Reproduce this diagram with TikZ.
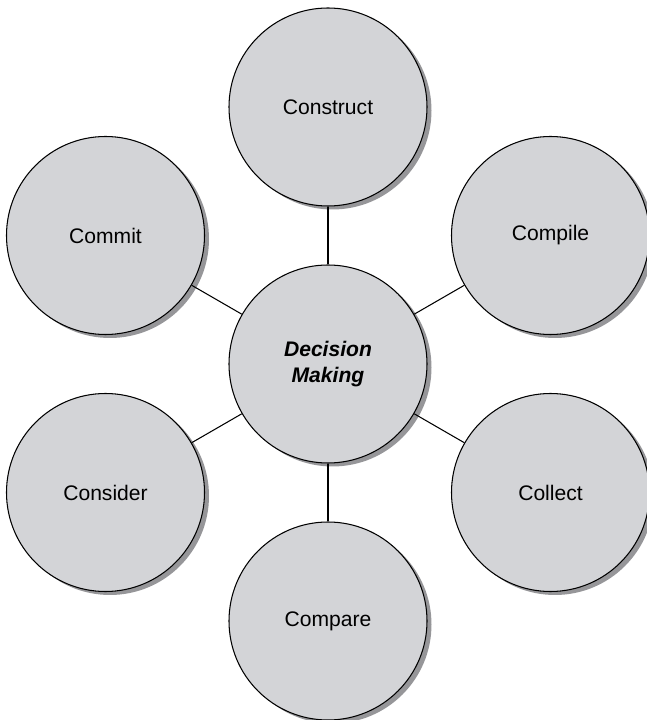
\documentclass[tikz,border=0pt]{standalone}
\usepackage{fontspec}
\setmainfont{Liberation Sans}
\usepackage{tikz}
\usetikzlibrary{shadows}

\definecolor{discgray}{RGB}{211,212,215}
\definecolor{shadegray}{RGB}{150,150,153}

\tikzset{
  stage/.style={circle, draw=black, line width=0.6pt, fill=discgray,
    minimum size=3.96cm, inner sep=0pt, font=\fontsize{12}{15}\selectfont,
    align=center,
    drop shadow={shadow xshift=0.09cm, shadow yshift=-0.07cm,
      fill=shadegray, opacity=1}},
  spoke/.style={line width=0.6pt}
}

\begin{document}
\begin{tikzpicture}
\useasboundingbox (0,0) rectangle (12.92,14.4);
% centre disc and the six stages around it
\node[stage] (decide) at (6.56,7.12) {\textbf{\textit{Decision}}\\\textbf{\textit{Making}}};
\node[stage] (construct) at (6.56,12.26) {Construct};
\node[stage] (compile) at (11.01,9.69) {Compile};
\node[stage] (collect) at (11.01,4.55) {Collect};
\node[stage] (compare) at (6.56,1.98) {Compare};
\node[stage] (consider) at (2.11,4.55) {Consider};
\node[stage] (commit) at (2.11,9.69) {Commit};
% spokes
\draw[spoke] (decide) -- (construct);
\draw[spoke] (decide) -- (compile);
\draw[spoke] (decide) -- (collect);
\draw[spoke] (decide) -- (compare);
\draw[spoke] (decide) -- (consider);
\draw[spoke] (decide) -- (commit);
\end{tikzpicture}
\end{document}
